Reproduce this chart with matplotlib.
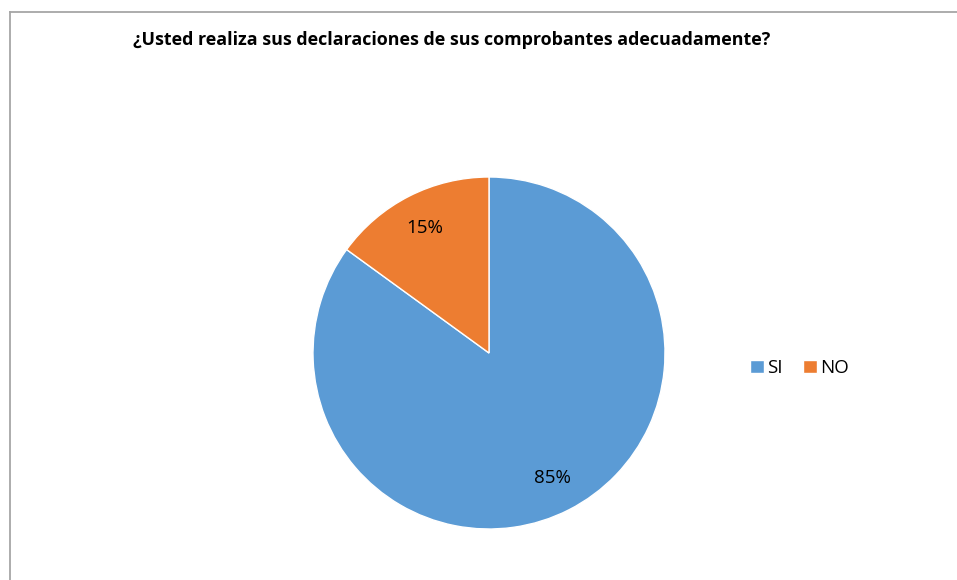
import matplotlib
matplotlib.use("Agg")
import matplotlib.pyplot as plt
from matplotlib.lines import Line2D

title = "¿Usted realiza sus declaraciones de sus comprobantes adecuadamente?"
categories = ["SI", "NO"]
values = [85, 15]
colors = ["#5B9BD5", "#ED7D31"]

W, H = 957, 580
fig = plt.figure(figsize=(W / 100, H / 100), dpi=100)
fig.patch.set_facecolor("white")

# chart area border (left and top edges visible)
fig.add_artist(Line2D([9.5 / W, 9.5 / W], [0, 1 - 11.5 / H], transform=fig.transFigure,
                      color="#A6A6A6", lw=1.3))
fig.add_artist(Line2D([9.5 / W, 1], [1 - 11.5 / H, 1 - 11.5 / H], transform=fig.transFigure,
                      color="#A6A6A6", lw=1.3))

cx, cy, r = 489, 353, 176
ax = fig.add_axes([(cx - r) / W, (H - cy - r) / H, 2 * r / W, 2 * r / H])
wedges, _, autotexts = ax.pie(
    values, colors=colors, startangle=90, counterclock=False,
    autopct=lambda p: f"{p:.0f}%", pctdistance=0.8,
    wedgeprops=dict(edgecolor="white", linewidth=1),
    textprops=dict(fontsize=13.5, color="#000000", family="Open Sans"),
    radius=1.0,
)
ax.set_xlim(-1, 1)
ax.set_ylim(-1, 1)
ax.set_aspect("equal")
ax.axis("off")

fig.text(451.5 / W, 1 - 40 / H, title, ha="center", va="center",
         fontsize=12.9, fontweight="bold", family="Open Sans", color="#000000")

leg = fig.legend(wedges, categories, loc="center left", bbox_to_anchor=(750 / W, 1 - 368 / H),
                 ncol=2, frameon=False, handlelength=0.75, handleheight=0.75,
                 handletextpad=0.15, columnspacing=1.1, borderaxespad=0, borderpad=0,
                 prop=dict(family="Open Sans", size=13.5))

fig.savefig("out.png", dpi=100, facecolor="white")
